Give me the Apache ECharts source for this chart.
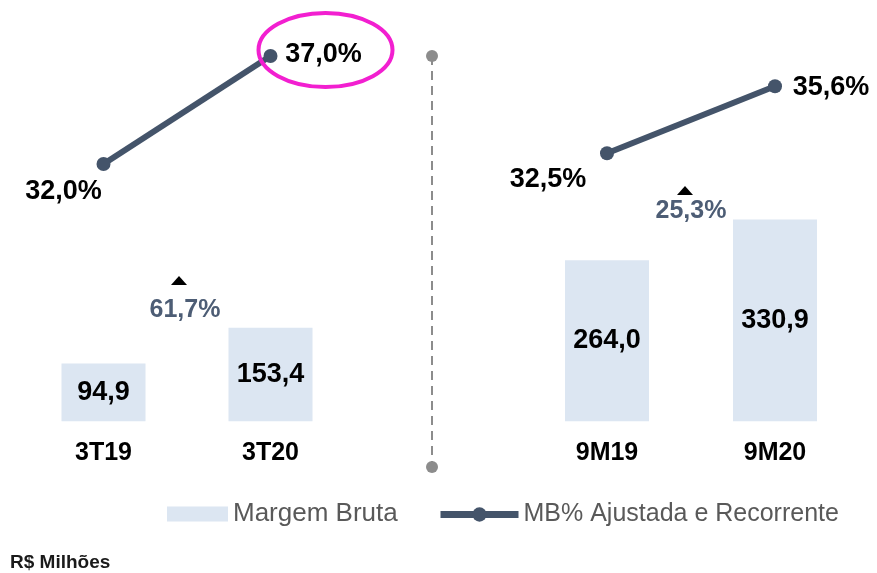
<!DOCTYPE html>
<html>
<head>
<meta charset="utf-8">
<title>Margem Bruta</title>
<script src="https://cdn.jsdelivr.net/npm/echarts@6/dist/echarts.min.js"></script>
<style>
  html, body { margin: 0; padding: 0; background: #fff; }
  #chart { width: 877px; height: 573px; }
</style>
</head>
<body>
<div id="chart"></div>
<script>
// períodos
const quarters = ['3T19', '3T20'];
const nineMonths = ['9M19', '9M20'];
// Margem Bruta (R$ milhões)
const grossQuarter = [94.9, 153.4];
const grossNine = [264.0, 330.9];
// MB% Ajustada e Recorrente
const pctQuarter = [32.0, 37.0];
const pctNine = [32.5, 35.6];
// crescimento da margem bruta
const growth = ['61,7%', '25,3%'];

const BAR_NAME = 'Margem Bruta';
const LINE_NAME = 'MB% Ajustada e Recorrente';
const FONT = "'Liberation Sans', Arial, sans-serif";
const BAR_COLOR = '#DCE6F2';
const LINE_COLOR = '#44546A';

const fmt = (v) => v.toFixed(1).replace('.', ',');

const chart = echarts.init(document.getElementById('chart'));

function xAxisCfg(gridIndex, data) {
  return {
    type: 'category',
    gridIndex: gridIndex,
    data: data,
    axisLine: { show: false },
    axisTick: { show: false },
    splitLine: { show: false },
    axisLabel: { margin: 17, fontFamily: FONT, fontWeight: 'bold', fontSize: 25, color: '#000' }
  };
}

function barSeries(axis, data) {
  return {
    name: BAR_NAME,
    type: 'bar',
    xAxisIndex: axis,
    yAxisIndex: axis * 2,
    barWidth: 84,
    itemStyle: { color: BAR_COLOR },
    label: {
      show: true,
      position: 'inside',
      fontFamily: FONT,
      fontWeight: 'bold',
      fontSize: 27,
      color: '#000',
      formatter: (p) => fmt(p.value)
    },
    data: data
  };
}

function lineSeries(axis, data, offsets) {
  return {
    name: LINE_NAME,
    type: 'line',
    xAxisIndex: axis,
    yAxisIndex: axis * 2 + 1,
    symbol: 'circle',
    symbolSize: 14,
    z: 5,
    lineStyle: { color: LINE_COLOR, width: 6 },
    itemStyle: { color: LINE_COLOR },
    label: {
      show: true,
      position: 'inside',
      fontFamily: FONT,
      fontWeight: 'bold',
      fontSize: 27,
      color: '#000',
      formatter: (p) => fmt(p.value) + '%'
    },
    data: data.map((v, i) => ({ value: v, label: { offset: offsets[i] } }))
  };
}

const option = {
  animation: false,
  grid: [
    { left: 20, top: 34.4, width: 334, height: 388.8 },
    { left: 523, top: 34.4, width: 336, height: 388.8 }
  ],
  xAxis: [xAxisCfg(0, quarters), xAxisCfg(1, nineMonths)],
  yAxis: [
    { type: 'value', gridIndex: 0, min: -3, max: 634, show: false },
    { type: 'value', gridIndex: 0, min: 20, max: 38, show: false },
    { type: 'value', gridIndex: 1, min: -3, max: 634, show: false },
    { type: 'value', gridIndex: 1, min: 20, max: 38, show: false }
  ],
  legend: [
    {
      data: [{ name: BAR_NAME, icon: 'rect' }],
      left: 167, top: 501, padding: 0,
      itemWidth: 61, itemHeight: 15,
      selectedMode: false,
      textStyle: { fontFamily: FONT, fontSize: 26, color: '#595959' }
    },
    {
      data: [LINE_NAME],
      left: 437, top: 502, padding: 0,
      itemWidth: 78, itemHeight: 18,
      lineStyle: { width: 7 },
      selectedMode: false,
      textStyle: { fontFamily: FONT, fontSize: 25, color: '#595959' }
    }
  ],
  series: [
    barSeries(0, grossQuarter),
    lineSeries(0, pctQuarter, [[-40, 28], [53, -1]]),
    barSeries(1, grossNine),
    lineSeries(1, pctNine, [[-59, 26], [56, 1]])
  ]
};

chart.setOption(option);

// anotações: elipse, separador, crescimento
const toPx = (seriesIndex, pt) => chart.convertToPixel({ seriesIndex: seriesIndex }, pt);
const highlight = toPx(1, [quarters[1], pctQuarter[1]]);
const midQ = (toPx(0, [quarters[0], 0])[0] + toPx(0, [quarters[1], 0])[0]) / 2;
const midN = (toPx(2, [nineMonths[0], 0])[0] + toPx(2, [nineMonths[1], 0])[0]) / 2;

function growthMark(x, yText, yTri, text) {
  return [
    {
      type: 'polygon',
      shape: { points: [[x - 16, yTri + 4], [x, yTri + 4], [x - 8, yTri - 5]] },
      style: { fill: '#000' }
    },
    {
      type: 'text',
      x: x - 2, y: yText,
      style: {
        text: text, fill: '#4D5D75',
        font: "bold 25px 'Liberation Sans', Arial, sans-serif",
        align: 'center', verticalAlign: 'middle'
      }
    }
  ];
}

chart.setOption({
  graphic: [
    {
      type: 'ellipse',
      shape: { cx: highlight[0] + 55, cy: highlight[1] - 6, rx: 67, ry: 37 },
      style: { fill: 'none', stroke: '#F21FD0', lineWidth: 4 },
      z: 10
    },
    {
      type: 'line',
      shape: { x1: 432, y1: 56, x2: 432, y2: 467 },
      style: { stroke: '#8C8C8C', lineWidth: 2, lineDash: [9, 6] }
    },
    { type: 'circle', shape: { cx: 432, cy: 56, r: 6 }, style: { fill: '#8C8C8C' } },
    { type: 'circle', shape: { cx: 432, cy: 467, r: 6 }, style: { fill: '#8C8C8C' } },
    ...growthMark(midQ, 310, 281, growth[0]),
    ...growthMark(midN + 2, 211, 191, growth[1]),
    {
      type: 'text',
      x: 10, y: 563,
      style: {
        text: 'R$ Milhões', fill: '#1A1A1A',
        font: "bold 19px 'Liberation Sans', Arial, sans-serif",
        verticalAlign: 'middle'
      }
    }
  ]
});

window.onresize = () => chart.resize();
</script>
</body>
</html>
